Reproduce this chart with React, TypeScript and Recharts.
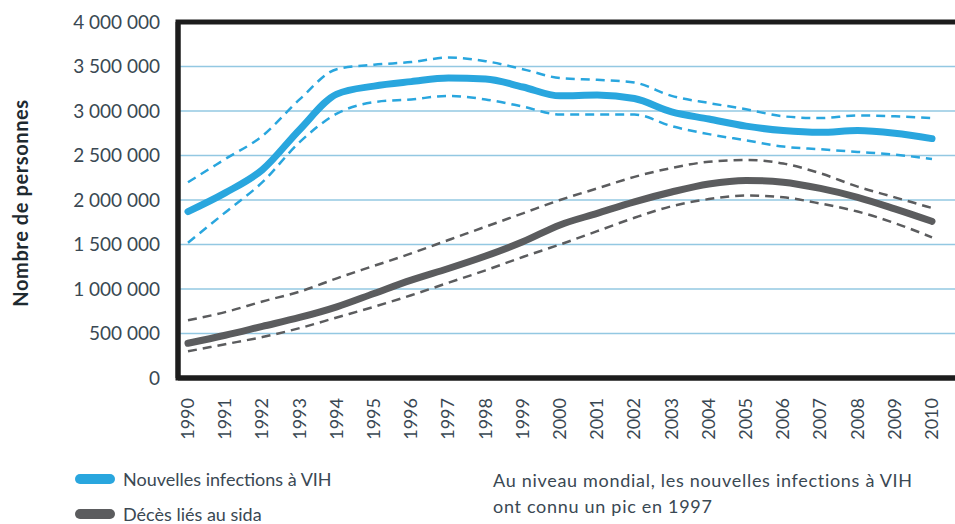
import { LineChart, Line, XAxis, YAxis, CartesianGrid, Legend, ReferenceArea } from 'recharts';

const years = [
  1990, 1991, 1992, 1993, 1994, 1995, 1996, 1997, 1998, 1999, 2000,
  2001, 2002, 2003, 2004, 2005, 2006, 2007, 2008, 2009, 2010,
];

// nouvelles infections à VIH
const infections = [
  1870000, 2080000, 2340000, 2790000, 3190000, 3280000, 3330000, 3370000, 3360000, 3270000, 3170000,
  3180000, 3140000, 2990000, 2910000, 2830000, 2780000, 2760000, 2780000, 2750000, 2690000,
];
const infectionsHigh = [
  2200000, 2460000, 2720000, 3130000, 3470000, 3520000, 3550000, 3600000, 3560000, 3470000, 3370000,
  3350000, 3320000, 3170000, 3090000, 3020000, 2940000, 2920000, 2950000, 2940000, 2920000,
];
const infectionsLow = [
  1520000, 1860000, 2200000, 2650000, 2970000, 3100000, 3130000, 3170000, 3130000, 3050000, 2960000,
  2960000, 2960000, 2830000, 2740000, 2670000, 2600000, 2570000, 2540000, 2510000, 2460000,
];

// décès liés au sida
const deaths = [
  390000, 480000, 580000, 680000, 800000, 950000, 1100000, 1230000, 1370000, 1530000, 1720000,
  1850000, 1980000, 2090000, 2180000, 2220000, 2200000, 2130000, 2030000, 1900000, 1760000,
];
const deathsHigh = [
  650000, 740000, 860000, 970000, 1120000, 1260000, 1400000, 1550000, 1700000, 1850000, 2000000,
  2130000, 2260000, 2360000, 2430000, 2450000, 2410000, 2300000, 2150000, 2030000, 1910000,
];
const deathsLow = [
  300000, 380000, 460000, 560000, 680000, 800000, 930000, 1070000, 1210000, 1360000, 1500000,
  1650000, 1800000, 1930000, 2010000, 2050000, 2030000, 1960000, 1870000, 1740000, 1580000,
];

const yTicks = [0, 500000, 1000000, 1500000, 2000000, 2500000, 3000000, 3500000, 4000000];
const legendOrder = ['infections', 'deaths'];

const data = years.map((y, i) => ({
  year: String(y),
  infections: infections[i],
  infectionsHigh: infectionsHigh[i],
  infectionsLow: infectionsLow[i],
  deaths: deaths[i],
  deathsHigh: deathsHigh[i],
  deathsLow: deathsLow[i],
}));

const BLUE = '#29a6de';
const GREY = '#5b5c5e';
const TEXT = '#3a4853';
const BORDER = '#1c1c1c';
const FONT = 'Lato, "Open Sans", sans-serif';

const fmt = (n: number) => String(n).replace(/\B(?=(\d{3})+(?!\d))/g, ' ');

const YearTick = (props: any) => {
  const { x, y, payload } = props;
  return (
    <text
      x={0}
      y={0}
      transform={`translate(${x + 6},${y + 12}) rotate(-90)`}
      textAnchor="end"
      fill={TEXT}
      fontSize={18}
      fontFamily={FONT}
    >
      {payload.value}
    </text>
  );
};

const YLabel = (props: any) => {
  const vb = props.viewBox || {};
  const cx = 20;
  const cy = vb.y + vb.height / 2 + 3;
  return (
    <text
      x={cx}
      y={cy}
      transform={`rotate(-90, ${cx}, ${cy})`}
      textAnchor="middle"
      dominantBaseline="central"
      fill="#1e2a30"
      fontSize={20}
      fontWeight={700}
      letterSpacing={0.6}
      fontFamily={FONT}
    >
      Nombre de personnes
    </text>
  );
};

const LegendBox = (props: any) => {
  const items = (props.payload || [])
    .filter((p: any) => p.type !== 'none')
    .sort((a: any, b: any) => legendOrder.indexOf(a.dataKey) - legendOrder.indexOf(b.dataKey));
  return (
    <div style={{ position: 'relative', height: 84, fontFamily: FONT, color: TEXT, fontSize: 18 }}>
      {items.map((p: any, i: number) => (
        <div key={p.value} style={{ position: 'absolute', left: 75, top: 28 + i * 35, display: 'flex', alignItems: 'center' }}>
          <span style={{ display: 'inline-block', width: 40, height: 10, borderRadius: 5, background: p.color, marginRight: 8 }} />
          <span>{p.value}</span>
        </div>
      ))}
      <div style={{ position: 'absolute', left: 493, top: 27, lineHeight: '26px', letterSpacing: 0.7 }}>
        Au niveau mondial, les nouvelles infections à VIH
        <br />
        ont connu un pic en 1997
      </div>
    </div>
  );
};

export default function App() {
  return (
    <div style={{ position: 'absolute', left: 0, top: 0, width: 955, height: 524, overflow: 'hidden', background: '#fff' }}>
      <LineChart width={975} height={524} data={data} margin={{ top: 22, right: 0, left: 0, bottom: 0 }}>
        <CartesianGrid vertical={false} stroke="#93c8e2" strokeWidth={1.5} horizontalValues={yTicks.slice(1, -1)} />
        <XAxis
          dataKey="year"
          height={62}
          interval={0}
          tickLine={false}
          axisLine={{ stroke: BORDER, strokeWidth: 5 }}
          tick={<YearTick />}
          padding={{ left: 10, right: 43 }}
        />
        {/* axe caché sans marge, pour que le cadre couvre toute la zone de tracé */}
        <XAxis xAxisId="frame" dataKey="year" hide padding={{ left: 0, right: 0 }} />
        <YAxis
          width={178}
          domain={[0, 4000000]}
          ticks={yTicks}
          interval={0}
          tickFormatter={fmt}
          tickLine={false}
          tickMargin={12}
          axisLine={{ stroke: BORDER, strokeWidth: 5 }}
          tick={{ fill: TEXT, fontSize: 19, fontFamily: FONT }}
          label={<YLabel />}
        />
        {/* cadre noir autour de la zone de tracé */}
        <ReferenceArea xAxisId="frame" y1={0} y2={4000000} fill="none" stroke={BORDER} strokeWidth={5} ifOverflow="visible" />
        <Legend verticalAlign="bottom" height={84} content={<LegendBox />} />
        <Line dataKey="infectionsHigh" type="monotone" stroke={BLUE} strokeWidth={2.5} strokeDasharray="9 6" dot={false} legendType="none" isAnimationActive={false} />
        <Line dataKey="infectionsLow" type="monotone" stroke={BLUE} strokeWidth={2.5} strokeDasharray="9 6" dot={false} legendType="none" isAnimationActive={false} />
        <Line dataKey="deathsHigh" type="monotone" stroke={GREY} strokeWidth={2.5} strokeDasharray="9 6" dot={false} legendType="none" isAnimationActive={false} />
        <Line dataKey="deathsLow" type="monotone" stroke={GREY} strokeWidth={2.5} strokeDasharray="9 6" dot={false} legendType="none" isAnimationActive={false} />
        <Line dataKey="infections" name="Nouvelles infections à VIH" type="monotone" stroke={BLUE} strokeWidth={7} strokeLinecap="round" dot={false} isAnimationActive={false} />
        <Line dataKey="deaths" name="Décès liés au sida" type="monotone" stroke={GREY} strokeWidth={7} strokeLinecap="round" dot={false} isAnimationActive={false} />
      </LineChart>
    </div>
  );
}
